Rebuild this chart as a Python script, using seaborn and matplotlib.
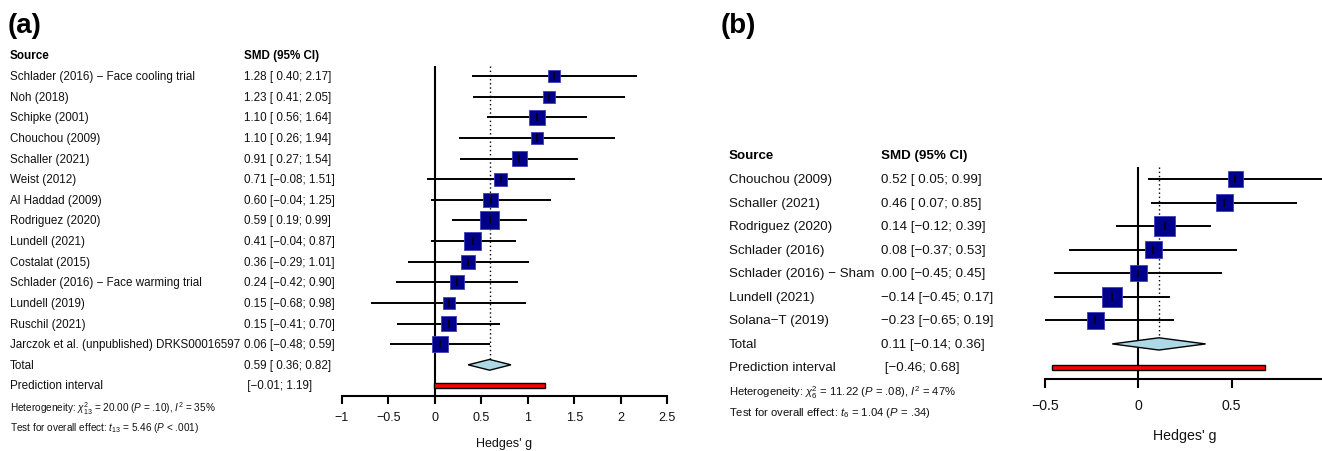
import numpy as np
import matplotlib
matplotlib.use("Agg")
import matplotlib.pyplot as plt
import matplotlib.transforms as mtransforms
from matplotlib.ticker import FixedLocator, FuncFormatter
import seaborn as sns

# ---------------- Data ----------------
# Panel (a)
a_studies = ["Schlader (2016) \u2212 Face cooling trial", "Noh (2018)", "Schipke (2001)",
             "Chouchou (2009)", "Schaller (2021)", "Weist (2012)", "Al Haddad (2009)",
             "Rodriguez (2020)", "Lundell (2021)", "Costalat (2015)",
             "Schlader (2016) \u2212 Face warming trial", "Lundell (2019)", "Ruschil (2021)",
             "Jarczok et al. (unpublished) DRKS00016597"]
a_smd = [1.28, 1.23, 1.10, 1.10, 0.91, 0.71, 0.60, 0.59, 0.41, 0.36, 0.24, 0.15, 0.15, 0.06]
a_lo = [0.40, 0.41, 0.56, 0.26, 0.27, -0.08, -0.04, 0.19, -0.04, -0.29, -0.42, -0.68, -0.41, -0.48]
a_hi = [2.17, 2.05, 1.64, 1.94, 1.54, 1.51, 1.25, 0.99, 0.87, 1.01, 0.90, 0.98, 0.70, 0.59]
a_weight = [5.0, 5.0, 7.8, 5.0, 7.5, 5.6, 7.1, 11.3, 10.1, 6.8, 7.1, 4.8, 7.8, 8.9]
a_total = [0.59, 0.36, 0.82]
a_pred = [-0.01, 1.19]
a_het = r"Heterogeneity: $\chi^2_{13}$ = 20.00 ($P$ = .10), $I^2$ = 35%"
a_test = r"Test for overall effect: $t_{13}$ = 5.46 ($P$ < .001)"
a_ticks = [-1, -0.5, 0, 0.5, 1, 1.5, 2, 2.5]

# Panel (b)
b_studies = ["Chouchou (2009)", "Schaller (2021)", "Rodriguez (2020)", "Schlader (2016)",
             "Schlader (2016) \u2212 Sham", "Lundell (2021)", "Solana\u2212T (2019)"]
b_smd = [0.52, 0.46, 0.14, 0.08, 0.00, -0.14, -0.23]
b_lo = [0.05, 0.07, -0.12, -0.37, -0.45, -0.45, -0.65]
b_hi = [0.99, 0.85, 0.39, 0.53, 0.45, 0.17, 0.19]
b_weight = [11.4, 13.4, 19.1, 12.9, 12.3, 18.0, 12.9]
b_total = [0.11, -0.14, 0.36]
b_pred = [-0.46, 0.68]
b_het = r"Heterogeneity: $\chi^2_{6}$ = 11.22 ($P$ = .08), $I^2$ = 47%"
b_test = r"Test for overall effect: $t_{6}$ = 1.04 ($P$ = .34)"
b_ticks = [-0.5, 0, 0.5]

# ---------------- Style ----------------
sns.set_theme(style="white")
plt.rcParams["font.family"] = ["Liberation Sans", "DejaVu Sans"]
plt.rcParams["mathtext.fontset"] = "custom"
plt.rcParams["mathtext.rm"] = "Liberation Sans"
plt.rcParams["mathtext.it"] = "Liberation Sans:italic"
plt.rcParams["mathtext.bf"] = "Liberation Sans:bold"
plt.rcParams["axes.unicode_minus"] = True

W, H = 1322, 452
fig = plt.figure(figsize=(W / 100, H / 100), dpi=100)

MINUS = "\u2212"


def fnum(v, pad=True):
    s = f"{abs(v):.2f}"
    if v < 0:
        return MINUS + s
    return (" " + s) if pad else s


def fmt_ci(est, lo, hi):
    return f"{fnum(est, pad=False)} [{fnum(lo)}; {fnum(hi, pad=False)}]"


def panel(studies, smd, lo, hi, weight, total, pred, het, test, ticks, *,
          x_lo_px, x_hi_px, xlim, row0_px, step_px, src_px, smd_px,
          fs, fs_tick, fs_small, kpx, het_rows, xlab_row, label, label_px, tick_len, tick_pad):
    n = len(studies)
    nrows = n + 2  # studies + total + prediction
    top_px = row0_px - 0.5 * step_px
    bot_px = row0_px + (nrows - 0.5) * step_px
    ax = fig.add_axes([x_lo_px / W, 1 - bot_px / H, (x_hi_px - x_lo_px) / W,
                       (bot_px - top_px) / H])
    ax.set_xlim(*xlim)
    ax.set_ylim(nrows - 0.5, -0.5)
    ax.patch.set_alpha(0)

    rows = np.arange(n)
    # confidence intervals
    ax.hlines(rows, lo, hi, color="black", lw=1.4, zorder=2)
    # weighted squares
    wmax = max(weight)
    c = 0.5184 * kpx ** 2
    sns.scatterplot(x=smd, y=rows, size=weight, sizes=(0, c * wmax), size_norm=(0, wmax),
                    marker="s", color="#00008B", edgecolor="#4040B8", linewidth=0.6,
                    legend=False, ax=ax, zorder=3)
    ax.scatter(smd, rows, marker="|", s=40, color="black", linewidths=1.1, zorder=4)

    est, tlo, thi = total
    trow = n
    h = 0.26
    ax.vlines(0, -0.5, nrows - 0.5, color="black", lw=1.5, zorder=1)
    ax.vlines(est, -0.5, trow - h, color="black", lw=1.0, linestyles=(0, (1, 2)), zorder=1)
    ax.fill([tlo, est, thi, est], [trow, trow - h, trow, trow + h],
            facecolor="#ADD8E6", edgecolor="black", lw=1.0, zorder=3)
    prow = n + 1
    ph = 0.11
    ax.fill([pred[0], pred[1], pred[1], pred[0]], [prow - ph, prow - ph, prow + ph, prow + ph],
            facecolor="#FF0000", edgecolor="black", lw=1.0, zorder=3)

    # axes styling
    sns.despine(ax=ax, left=True)
    ax.spines["bottom"].set_linewidth(1.5)
    ax.spines["bottom"].set_color("black")
    ax.set_yticks([])
    ax.xaxis.set_major_locator(FixedLocator(ticks))
    ax.xaxis.set_major_formatter(FuncFormatter(lambda v, p: f"{v:g}".replace("-", MINUS)))
    ax.tick_params(axis="x", bottom=True, length=tick_len, width=1.5, color="black",
                   pad=tick_pad, labelsize=fs_tick, labelcolor="#111111")
    ax.grid(False)
    ax.set_xlabel("")
    tr_lab = mtransforms.blended_transform_factory(ax.transAxes, ax.transData)
    ax.text(0.5, xlab_row, "Hedges' g", transform=tr_lab, ha="center", va="center",
            fontsize=fs_tick, color="#111111")

    # text columns
    tr_src = mtransforms.blended_transform_factory(fig.transFigure, ax.transData)
    xs, xm = src_px / W, smd_px / W
    ax.text(xs, -1, "Source", transform=tr_src, ha="left", va="center", fontsize=fs,
            fontweight="bold", color="black")
    ax.text(xm, -1, "SMD (95% CI)", transform=tr_src, ha="left", va="center", fontsize=fs,
            fontweight="bold", color="black")
    for i in range(n):
        ax.text(xs, i, studies[i], transform=tr_src, ha="left", va="center", fontsize=fs,
                color="#111111")
        ax.text(xm, i, fmt_ci(smd[i], lo[i], hi[i]), transform=tr_src, ha="left",
                va="center", fontsize=fs, color="#111111")
    ax.text(xs, trow, "Total", transform=tr_src, ha="left", va="center", fontsize=fs,
            color="#111111")
    ax.text(xm, trow, fmt_ci(est, tlo, thi), transform=tr_src, ha="left", va="center",
            fontsize=fs, color="#111111")
    ax.text(xs, prow, "Prediction interval", transform=tr_src, ha="left", va="center",
            fontsize=fs, color="#111111")
    ax.text(xm, prow, f" [{fnum(pred[0], pad=False)}; {fnum(pred[1], pad=False)}]",
            transform=tr_src, ha="left", va="center", fontsize=fs, color="#111111")
    ax.text(xs, het_rows[0], het, transform=tr_src, ha="left", va="center",
            fontsize=fs_small, color="#111111")
    ax.text(xs, het_rows[1], test, transform=tr_src, ha="left", va="center",
            fontsize=fs_small, color="#111111")

    fig.text(label_px[0] / W, 1 - label_px[1] / H, label, ha="left", va="center",
             fontsize=20, fontweight="bold", color="black")
    return ax


panel(a_studies, a_smd, a_lo, a_hi, a_weight, a_total, a_pred, a_het, a_test, a_ticks,
      x_lo_px=341.7, x_hi_px=667.2, xlim=(-1, 2.5), row0_px=77.0, step_px=20.63,
      src_px=10, smd_px=244, fs=8.4, fs_tick=9.0, fs_small=7.2, kpx=5.4, het_rows=(16.05, 17.02),
      xlab_row=17.8, label="(a)", label_px=(8, 26), tick_len=5.8, tick_pad=5.0)

panel(b_studies, b_smd, b_lo, b_hi, b_weight, b_total, b_pred, b_het, b_test, b_ticks,
      x_lo_px=1045.0, x_hi_px=1325.1, xlim=(-0.5, 1.0), row0_px=180.0, step_px=23.56,
      src_px=729, smd_px=881, fs=9.6, fs_tick=10.2, fs_small=8.1, kpx=4.7, het_rows=(9.04, 9.89),
      xlab_row=10.87, label="(b)", label_px=(721, 26), tick_len=6.5, tick_pad=7.0)

fig.savefig("out.png", dpi=100)
